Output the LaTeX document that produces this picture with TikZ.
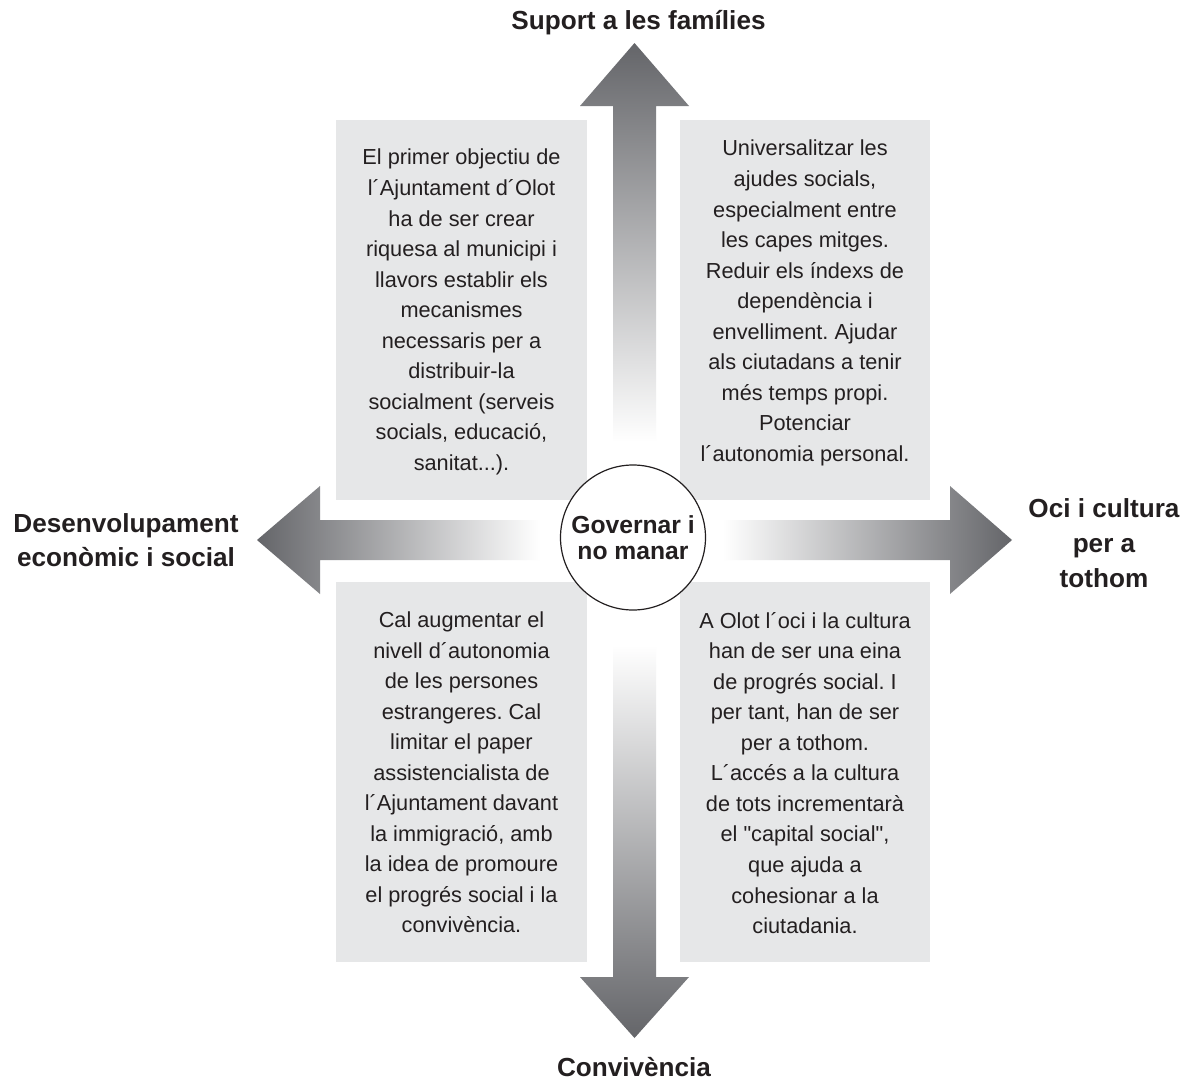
\documentclass[tikz,border=0pt]{standalone}
\usepackage{fontspec}
\setmainfont{Liberation Sans}
\newfontfamily\qfont{Liberation Sans}
\definecolor{boxgray}{RGB}{230,231,232}
\definecolor{arrowdark}{RGB}{100,101,105}
\definecolor{ink}{RGB}{35,31,32}
\frenchspacing
\begin{document}
\begin{tikzpicture}[x=0.75pt,y=-0.75pt,
  boxbg/.style={fill=boxgray, draw=none, inner sep=0pt, minimum width=188pt, minimum height=285pt},
  bodytext/.style={align=center, inner sep=0pt, text=ink, font=\fontsize{16.3}{22.9}\selectfont},
  headtext/.style={align=center, inner sep=0pt, text=ink, font=\bfseries\fontsize{19.6}{26}\selectfont},
  hub/.style={circle, draw=ink, line width=0.9pt, fill=white, inner sep=0pt, minimum size=108.75pt,
    align=center, text=ink, font=\bfseries\fontsize{18.5}{19.5}\selectfont}
]
\useasboundingbox (0,0) rectangle (1186,1082);
\fill[white] (0,0) rectangle (1186,1082);

% boxes
\node[boxbg] (tlbox) at (461.5,310) {};
\node[boxbg] (trbox) at (805,310) {};
\node[boxbg] (blbox) at (461.5,772) {};
\node[boxbg] (brbox) at (805,772) {};

% arrows
\shade[top color=arrowdark, bottom color=white]
  (634.5,43) -- (689,106) -- (656,106) -- (656,442) -- (613,442) -- (613,106) -- (580,106) -- cycle;
\shade[top color=white, bottom color=arrowdark]
  (634.5,1038) -- (580,977) -- (613,977) -- (613,645) -- (656,645) -- (656,977) -- (689,977) -- cycle;
\shade[left color=arrowdark, right color=white]
  (257,540) -- (320,486) -- (320,520) -- (540,520) -- (540,560) -- (320,560) -- (320,594) -- cycle;
\shade[left color=white, right color=arrowdark]
  (1012,540) -- (950,486) -- (950,520) -- (723,520) -- (723,560) -- (950,560) -- (950,594) -- cycle;

% centre
\node[hub] (hubnode) at (633,537.5) {Governar i\\no manar};

% box texts
\node[bodytext] (tltext) at (461.5,312) {El primer objectiu de\\l´Ajuntament d´Olot\\ha de ser crear\\riquesa al municipi i\\llavors establir els\\mecanismes\\necessaris per a\\distribuir-la\\socialment (serveis\\socials, educació,\\sanitat...).};
\node[bodytext] (trtext) at (805,303) {Universalitzar les\\ajudes socials,\\especialment entre\\les capes mitges.\\Reduir els índexs de\\dependència i\\envelliment. Ajudar\\als ciutadans a tenir\\més temps propi.\\Potenciar\\l´autonomia personal.};
\node[bodytext] (bltext) at (461.5,772.5) {Cal augmentar el\\nivell d´autonomia\\de les persones\\estrangeres. Cal\\limitar el paper\\assistencialista de\\l´Ajuntament davant\\la immigració, amb\\la idea de promoure\\el progrés social i la\\convivència.};
\node[bodytext] (brtext) at (805,773) {A Olot l´oci i la cultura\\han de ser una eina\\de progrés social. I\\per tant, han de ser\\per a tothom.\\L´accés a la cultura\\de tots incrementarà\\el {\qfont"}capital social{\qfont"},\\que ajuda a\\cohesionar a la\\ciutadania.};

% axis labels
\node[headtext] (toplabel) at (638.5,23) {Suport a les famílies};
\node[headtext] (bottomlabel) at (634,1067) {Convivència};
\node[headtext] (leftlabel) at (126,540) {Desenvolupament\\econòmic i social};
\node[headtext] (rightlabel) at (1104,543) {Oci i cultura\\per a\\tothom};
\end{tikzpicture}
\end{document}
